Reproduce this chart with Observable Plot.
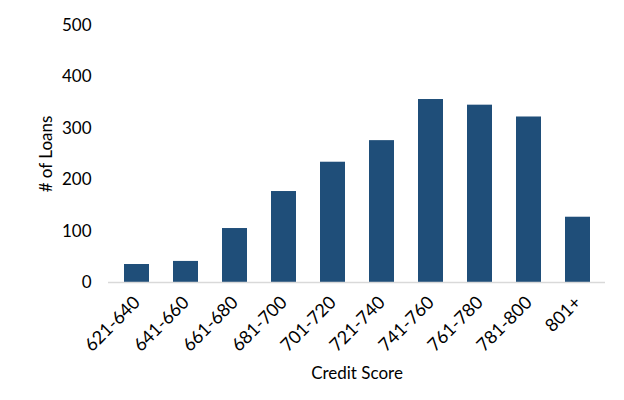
<!DOCTYPE html>
<html>
<head>
<meta charset="utf-8">
<script src="https://cdn.jsdelivr.net/npm/d3@7"></script>
<script src="https://cdn.jsdelivr.net/npm/@observablehq/plot@0.6"></script>
<style>
  html, body { margin: 0; padding: 0; background: #fff; }
  #chart svg { display: block; }
</style>
</head>
<body>
<div id="chart"></div>
<script>
const categories = ["621-640", "641-660", "661-680", "681-700", "701-720", "721-740", "741-760", "761-780", "781-800", "801+"];
const loans = [35, 41, 105, 177, 234, 276, 356, 345, 322, 127];
const yTicks = [0, 100, 200, 300, 400, 500];
const xTitle = "Credit Score";
const yTitle = "# of Loans";

const data = categories.map((c, i) => ({category: c, loans: loans[i]}));

const chart = Plot.plot({
  width: 624,
  height: 400,
  marginTop: 25,
  marginBottom: 118,
  marginLeft: 108,
  marginRight: 19,
  style: {fontFamily: "Lato, 'Open Sans', sans-serif", fontSize: "17px", color: "#000", background: "#fff"},
  x: {domain: categories, paddingInner: 0.5, paddingOuter: 0.25, label: null},
  y: {domain: [0, 500], ticks: yTicks, label: null},
  marks: [
    Plot.barY(data, {x: "category", y: "loans", fill: "#1f4e79"}),
    Plot.ruleY([0], {stroke: "#d9d9d9", strokeWidth: 1.3}),
    Plot.axisY({ticks: yTicks, tickSize: 0, tickPadding: 17, fontSize: 17, label: null}),
    Plot.axisX({tickSize: 0, tickPadding: 17, tickRotate: -45, fontSize: 18, label: null}),
    Plot.text([yTitle], {text: d => d, frameAnchor: "left", textAnchor: "middle", rotate: -90, dx: -62, fontSize: 17, fill: "#000"}),
    Plot.text([xTitle], {text: d => d, frameAnchor: "bottom", textAnchor: "middle", dy: 96, fontSize: 17, fill: "#000"})
  ]
});
document.getElementById("chart").appendChild(chart);
</script>
</body>
</html>
